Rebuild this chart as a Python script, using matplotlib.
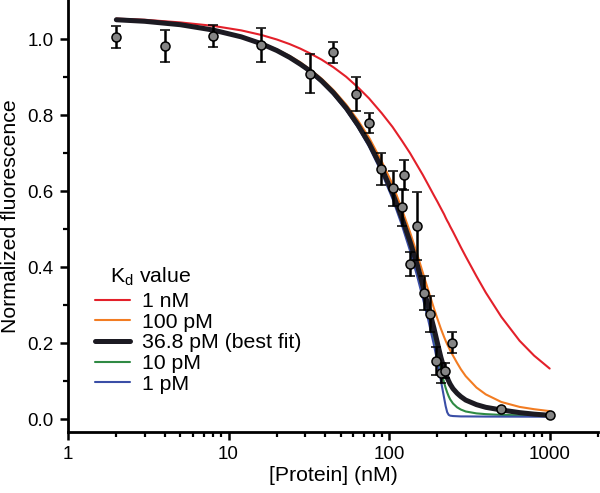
import matplotlib
matplotlib.use("Agg")
import matplotlib.pyplot as plt
from matplotlib.ticker import LogLocator, FixedLocator, NullFormatter

plt.rcParams['font.family'] = ['Liberation Sans', 'DejaVu Sans']
plt.rcParams['mathtext.fontset'] = 'custom'
plt.rcParams['mathtext.rm'] = 'Liberation Sans'

# ---- data ----
conc = [2, 4, 8, 16, 32, 45, 62, 75, 89, 105, 121, 124, 134, 149, 164, 179,
        195, 209, 223, 248, 500, 1000]
fluor = [1.006, 0.982, 1.008, 0.985, 0.909, 0.965, 0.856, 0.779, 0.658, 0.607,
         0.557, 0.642, 0.408, 0.509, 0.332, 0.277, 0.153, 0.121, 0.127, 0.201,
         0.026, 0.011]
err = [0.029, 0.042, 0.029, 0.044, 0.052, 0.027, 0.044, 0.026, 0.042, 0.047,
       0.049, 0.040, 0.031, 0.089, 0.044, 0.047, 0.037, 0.026, 0.020, 0.027,
       0.0, 0.0]

curve_x = [2, 3, 5, 8, 12, 16, 20, 24, 28, 32, 38, 45, 54, 64, 75, 90, 105, 120,
           135, 150, 162, 175, 190, 200, 210, 220, 225, 230, 235, 240, 250, 265,
           280, 300, 350, 400, 500, 650, 800, 1000]
fit_1nM = [1.054, 1.051, 1.044, 1.035, 1.023, 1.011, 0.999, 0.987, 0.975, 0.963,
           0.946, 0.926, 0.901, 0.873, 0.844, 0.805, 0.769, 0.733, 0.700, 0.667,
           0.643, 0.617, 0.589, 0.572, 0.555, 0.539, 0.530, 0.522, 0.515, 0.507,
           0.493, 0.472, 0.452, 0.428, 0.376, 0.333, 0.269, 0.206, 0.167, 0.133]
fit_100pM = [1.051, 1.047, 1.038, 1.025, 1.008, 0.990, 0.973, 0.956, 0.939, 0.921,
             0.896, 0.866, 0.828, 0.786, 0.741, 0.678, 0.618, 0.553, 0.492, 0.432,
             0.386, 0.340, 0.292, 0.264, 0.238, 0.216, 0.206, 0.197, 0.189, 0.181,
             0.167, 0.148, 0.131, 0.113, 0.083, 0.065, 0.045, 0.032, 0.026, 0.021]
fit_36pM = [1.051, 1.047, 1.038, 1.024, 1.006, 0.988, 0.970, 0.952, 0.934, 0.917,
            0.890, 0.859, 0.819, 0.774, 0.726, 0.660, 0.595, 0.530, 0.467, 0.405,
            0.352, 0.298, 0.240, 0.200, 0.163, 0.133, 0.120, 0.109, 0.100, 0.092,
            0.080, 0.068, 0.059, 0.050, 0.038, 0.031, 0.024, 0.017, 0.013, 0.010]
fit_10pM = [1.051, 1.046, 1.037, 1.023, 1.005, 0.987, 0.969, 0.950, 0.932, 0.914,
            0.887, 0.855, 0.815, 0.769, 0.719, 0.652, 0.584, 0.516, 0.450, 0.383,
            0.330, 0.275, 0.212, 0.167, 0.130, 0.096, 0.082, 0.070, 0.060, 0.052,
            0.041, 0.031, 0.025, 0.020, 0.015, 0.013, 0.011, 0.010, 0.0095, 0.009]
fit_1pM = [1.051, 1.046, 1.037, 1.023, 1.005, 0.987, 0.968, 0.950, 0.932, 0.914,
           0.886, 0.854, 0.813, 0.767, 0.717, 0.648, 0.580, 0.511, 0.443, 0.374,
           0.319, 0.262, 0.196, 0.150, 0.102, 0.056, 0.034, 0.018, 0.011, 0.009,
           0.008, 0.0075, 0.007, 0.007, 0.0068, 0.0066, 0.0065, 0.0064, 0.0063,
           0.0063]

labels = ['1 nM', '100 pM', '36.8 pM (best fit)', '10 pM', '1 pM']
colors = ['#e3202a', '#f27c22', '#1c1a22', '#2f8a44', '#3a4ea6']
widths = [1.5, 1.5, 3.6, 1.5, 1.5]

# ---- figure ----
fig = plt.figure(figsize=(6.0, 4.93), dpi=100)
ax = fig.add_axes([68 / 600, 1 - 432 / 493, 530 / 600, 432 / 493])

series = [fit_1nM, fit_100pM, fit_36pM, fit_10pM, fit_1pM]
handles = {}
for i in [0, 1, 3, 4, 2]:
    h, = ax.plot(curve_x, series[i], color=colors[i], lw=widths[i],
                 solid_capstyle='round', solid_joinstyle='round',
                 zorder=3 if i == 2 else 2)
    handles[i] = h

ax.errorbar(conc, fluor, yerr=err, fmt='o', color='black', ecolor='black',
            elinewidth=1.8, capsize=3.6, capthick=1.8, markersize=6.5,
            markerfacecolor='#858585', markeredgecolor='black',
            markeredgewidth=1.1, zorder=5)

ax.set_xscale('log')
ax.set_xlim(1, 2000)
ax.set_ylim(-0.034, 1.103)

ax.xaxis.set_major_locator(FixedLocator([1, 10, 100, 1000]))
ax.set_xticklabels(['1', '10', '100', '1000'])
ax.xaxis.set_minor_locator(LogLocator(base=10, subs=range(2, 10), numticks=20))
ax.xaxis.set_minor_formatter(NullFormatter())
ax.yaxis.set_major_locator(FixedLocator([0.0, 0.2, 0.4, 0.6, 0.8, 1.0]))
ax.set_yticklabels(['0.0', '0.2', '0.4', '0.6', '0.8', '1.0'])
ax.yaxis.set_minor_locator(FixedLocator([0.1, 0.3, 0.5, 0.7, 0.9]))

for s in ['top', 'right']:
    ax.spines[s].set_visible(False)
for s in ['left', 'bottom']:
    ax.spines[s].set_linewidth(2.0)

ax.tick_params(which='major', direction='out', length=5.8, width=1.8,
               labelsize=13.5, pad=4.5)
ax.tick_params(which='minor', direction='out', length=3.8, width=1.6)

ax.set_xlabel('[Protein] (nM)', fontsize=15.3, labelpad=2)
ax.set_ylabel('Normalized fluorescence', fontsize=15.3, labelpad=5)

leg = ax.legend([handles[i] for i in range(5)], labels, frameon=False,
                loc='upper left', bbox_to_anchor=(95 / 600, 1 - 292 / 493),
                bbox_transform=fig.transFigure, fontsize=15.3, borderpad=0,
                handlelength=1.65, handletextpad=0.55, labelspacing=0.08,
                borderaxespad=0)
fig.text(110 / 600, 1 - 277 / 493, 'K$_{\\mathregular{d}}$ value', fontsize=15.3,
         ha='left', va='center')

fig.savefig('out.png', dpi=100)
